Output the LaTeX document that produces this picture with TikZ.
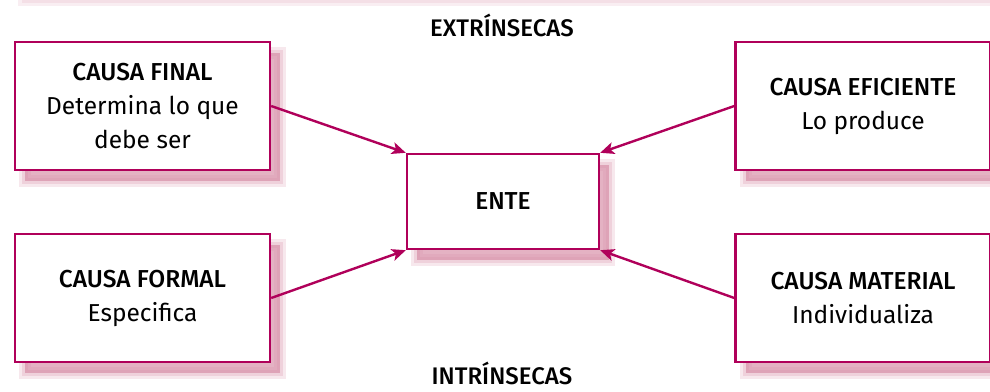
\documentclass[tikz,border=0pt]{standalone}
\usepackage{fontspec}
\setmainfont{Fira Sans}[BoldFont={Fira Sans Medium}]
\usetikzlibrary{arrows.meta,shadows}
\definecolor{causered}{RGB}{176,0,90}
\definecolor{shadowpink}{RGB}{214,140,165}
\tikzset{
  softshadow/.style={
    general shadow={shadow xshift=10pt, shadow yshift=-11pt, fill=shadowpink, draw=shadowpink, fill opacity=.2, draw opacity=.2, line width=12pt},
    general shadow={shadow xshift=10pt, shadow yshift=-11pt, fill=shadowpink, draw=shadowpink, fill opacity=.25, draw opacity=.25, line width=6pt},
    general shadow={shadow xshift=10pt, shadow yshift=-11pt, fill=shadowpink, fill opacity=.45}},
  causebox/.style={draw=causered, line width=2.4pt, fill=white, minimum width=255pt, minimum height=128pt, align=center, inner sep=0pt, softshadow, font=\fontsize{24.5}{34}\selectfont},
  entebox/.style={causebox, minimum width=192pt, minimum height=95pt},
  sidelabel/.style={font=\fontsize{24}{26}\selectfont\bfseries, anchor=base, inner sep=0pt},
  causearrow/.style={draw=causered, line width=2.4pt, -{Stealth[length=14pt,width=12pt,inset=3.5pt]}}
}
\begin{document}
\begin{tikzpicture}[x=1pt,y=-1pt]
\useasboundingbox (0,0) rectangle (990,391);
\fill[shadowpink, opacity=.15] (18,-20) rectangle (1000,6);
\fill[shadowpink, opacity=.15] (22,-20) rectangle (1000,3);

\node[sidelabel] (extr) at (502,36) {EXTRÍNSECAS};
\node[sidelabel] (intr) at (502,384) {INTRÍNSECAS};

\node[causebox] (final) at (142.5,106) {\textbf{CAUSA FINAL}\\Determina lo que\\debe ser};
\node[causebox] (eficiente) at (863,106) {\textbf{CAUSA EFICIENTE}\\Lo produce};
\node[causebox] (formal) at (142.5,298) {\textbf{CAUSA FORMAL}\\Especifica};
\node[causebox] (material) at (863,298) {\textbf{CAUSA MATERIAL}\\Individualiza};
\node[entebox] (ente) at (503,201.5) {\textbf{ENTE}};

\path[causearrow] (final.east) -- (ente.north west);
\path[causearrow] (eficiente.west) -- (ente.north east);
\path[causearrow] (formal.east) -- (ente.south west);
\path[causearrow] (material.west) -- (ente.south east);
\end{tikzpicture}
\end{document}
